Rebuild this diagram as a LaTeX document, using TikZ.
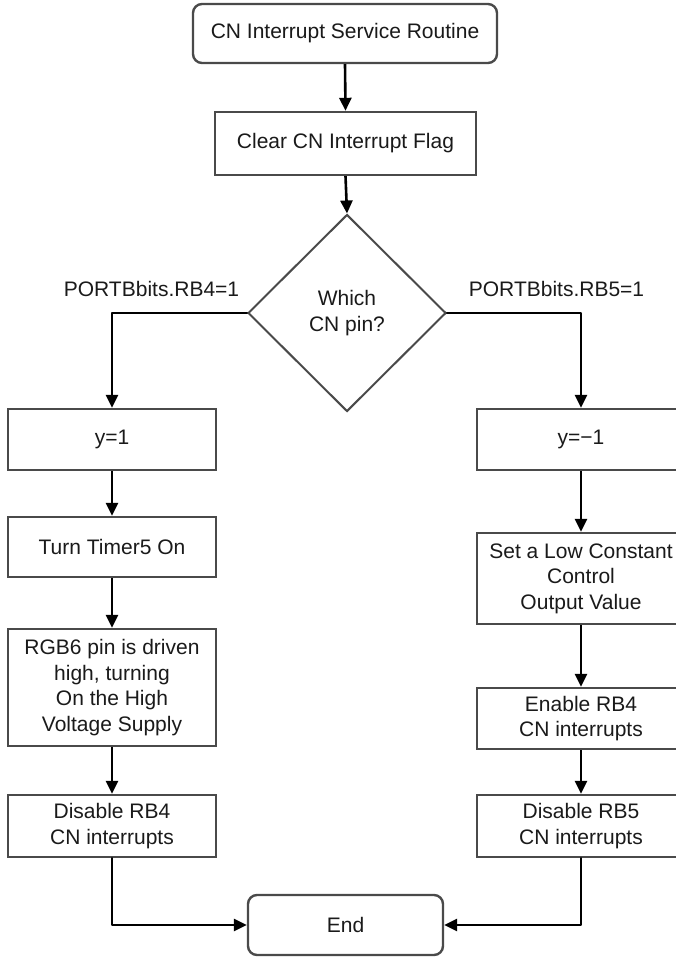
\documentclass[tikz,border=0pt]{standalone}
\usepackage{fontspec}
\setmainfont{Liberation Sans}
\usetikzlibrary{shapes.geometric,arrows.meta}

\definecolor{boxline}{HTML}{4A4A4A}
\definecolor{inkc}{HTML}{1A1A1A}

\tikzset{
  base/.style={draw=boxline, line width=2.4pt, fill=white, text=inkc,
    align=center, inner sep=0pt,
    font=\fontsize{21}{25.5}\selectfont},
  procbox/.style={base, rectangle},
  termbox/.style={base, rectangle, rounded corners=9pt},
  decbox/.style={base, diamond, line width=2pt},
  lbl/.style={text=inkc, inner sep=0pt, font=\fontsize{21}{25.5}\selectfont},
  flow/.style={draw=black, line width=2.6pt,
    -{Triangle[length=13pt,width=12pt]}},
  flowend/.style={flow, line cap=round, line join=round}
}

\begin{document}
\begin{tikzpicture}[x=1pt,y=-1pt]
  \useasboundingbox (0,0) rectangle (676,957);
  \clip (0,0) rectangle (676,957);

  % main column
  \node[termbox, minimum width=304pt, minimum height=59pt] (start) at (345,33.5)
    {CN Interrupt Service Routine};
  \node[procbox, minimum width=261pt, minimum height=63pt] (clear) at (345.5,143.5)
    {Clear CN Interrupt Flag};
  \node[decbox, minimum width=198pt, minimum height=197pt] (dec) at (347,313)
    {Which\\CN pin?};

  % branch labels
  \node[lbl] (lblL) at (151.5,289) {PORTBbits.RB4=1};
  \node[lbl] (lblR) at (556.5,289) {PORTBbits.RB5=1};

  % left branch (RB4)
  \node[procbox, minimum width=208pt, minimum height=61pt] (y1) at (112,439.5) {y=1};
  \node[procbox, minimum width=208pt, minimum height=60pt] (timer) at (112,547)
    {Turn Timer5 On};
  \node[procbox, minimum width=208pt, minimum height=117pt] (rgb) at (112,687.5)
    {RGB6 pin is driven\\high, turning\\On the High\\Voltage Supply};
  \node[procbox, minimum width=208pt, minimum height=62pt] (dis4) at (112,826)
    {Disable RB4\\CN interrupts};

  % right branch (RB5)
  \node[procbox, minimum width=208pt, minimum height=61pt] (ym1) at (581,439.5) {y=−1};
  \node[procbox, minimum width=208pt, minimum height=91pt] (low) at (581,578.5)
    {Set a Low Constant\\Control\\Output Value};
  \node[procbox, minimum width=208pt, minimum height=61pt] (en4) at (581,718.5)
    {Enable RB4\\CN interrupts};
  \node[procbox, minimum width=208pt, minimum height=62pt] (dis5) at (581,826)
    {Disable RB5\\CN interrupts};

  % terminal
  \node[termbox, minimum width=195pt, minimum height=60pt] (end) at (345.5,925) {End};

  % connectors
  \draw[flow] (start.south) -- (clear.north);
  \draw[flow] (clear.south) -- (dec.north);
  \draw[flowend] (dec.west) -| (y1.north);
  \draw[flowend] (dec.east) -| (ym1.north);

  \draw[flow] (y1.south) -- (timer.north);
  \draw[flow] (timer.south) -- (rgb.north);
  \draw[flow] (rgb.south) -- (dis4.north);

  \draw[flow] (ym1.south) -- (low.north);
  \draw[flow] (low.south) -- (en4.north);
  \draw[flow] (en4.south) -- (dis5.north);

  \draw[flowend] (dis4.south) |- (end.west);
  \draw[flowend] (dis5.south) |- (end.east);
\end{tikzpicture}
\end{document}
